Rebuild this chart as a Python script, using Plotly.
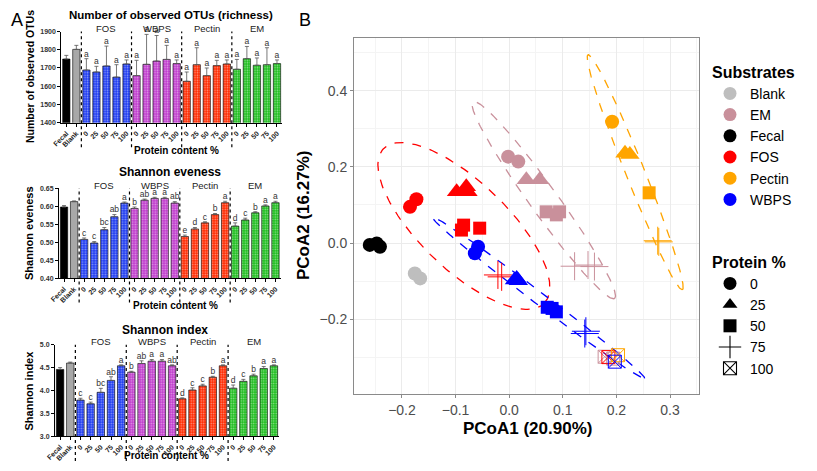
import numpy as np
import plotly.graph_objects as go

# ---------------- Panel A data ----------------
categories = ["Fecal", "Blank"] + ["0", "25", "50", "75", "100"] * 4
groups = ["FOS", "WBPS", "Pectin", "EM"]
bar_group = ["Fecal", "Blank"] + [g for g in groups for _ in range(5)]

otu_mean = [1749, 1802, 1689, 1678, 1711, 1650, 1722, 1658, 1720, 1738, 1747, 1724,
            1627, 1718, 1658, 1713, 1722, 1693, 1751, 1715, 1718, 1724]
otu_err = [20, 22, 62, 31, 109, 68, 22, 84, 164, 140, 77, 20,
           51, 93, 42, 29, 22, 54, 67, 40, 93, 20]
otu_letters = ["", ""] + ["a"] * 20

even_mean = [0.598, 0.613, 0.508, 0.498, 0.535, 0.571, 0.609, 0.594, 0.617, 0.622, 0.622, 0.609,
             0.516, 0.537, 0.554, 0.577, 0.610, 0.545, 0.562, 0.582, 0.601, 0.610]
even_err = [0.004, 0.002, 0.004, 0.004, 0.006, 0.006, 0.003, 0.004, 0.003, 0.003, 0.003, 0.004,
            0.004, 0.004, 0.003, 0.003, 0.004, 0.009, 0.005, 0.003, 0.003, 0.004]
even_letters = ["", ""] + ["c", "c", "bc", "ab", "a"] + ["b", "ab", "a", "a", "ab"] + \
               ["e", "d", "c", "b", "a"] + ["d", "c", "b", "a", "a"]

shan_mean = [4.46, 4.60, 3.79, 3.71, 3.96, 4.22, 4.54, 4.40, 4.59, 4.64, 4.64, 4.54,
             3.82, 4.01, 4.10, 4.29, 4.54, 4.05, 4.20, 4.32, 4.48, 4.54]
shan_err = [0.04, 0.02, 0.04, 0.036, 0.087, 0.08, 0.02, 0.02, 0.058, 0.036, 0.036, 0.02,
            0.02, 0.05, 0.036, 0.02, 0.02, 0.07, 0.043, 0.036, 0.043, 0.02]
shan_letters = ["", ""] + ["c", "c", "bc", "ab", "a"] + ["b", "ab", "a", "a", "ab"] + \
               ["d", "c", "c", "b", "a"] + ["d", "c", "b", "a", "a"]

bar_palette = {"Fecal": "#000000", "Blank": "#a8a8a8", "FOS": "#1f3cf2",
               "WBPS": "#c03ccd", "Pectin": "#ff2a00", "EM": "#1fbe1f"}

# ---------------- Panel B data ----------------
pc_sub = (["Fecal"] * 3 + ["Blank"] * 2 +
          ["FOS"] * 2 + ["FOS"] * 3 + ["FOS"] * 3 + ["FOS"] * 2 + ["FOS"] +
          ["WBPS"] * 2 + ["WBPS"] * 3 + ["WBPS"] * 3 + ["WBPS"] * 2 + ["WBPS"] +
          ["EM"] * 2 + ["EM"] * 2 + ["EM"] * 3 + ["EM"] * 3 + ["EM"] * 2 +
          ["Pectin"] + ["Pectin"] * 2 + ["Pectin"] + ["Pectin"] * 2 + ["Pectin"])
pc_prot = (["0"] * 3 + ["0"] * 2 +
           ["0"] * 2 + ["25"] * 3 + ["50"] * 3 + ["75"] * 2 + ["100"] +
           ["0"] * 2 + ["25"] * 3 + ["50"] * 3 + ["75"] * 2 + ["100"] +
           ["0"] * 2 + ["25"] * 2 + ["50"] * 3 + ["75"] * 3 + ["100"] * 2 +
           ["0"] + ["25"] * 2 + ["50"] + ["75"] * 2 + ["100"])
pc1 = [-0.260, -0.247, -0.241, -0.176, -0.166,
       -0.185, -0.173, -0.098, -0.080, -0.077, -0.089, -0.085, -0.055, -0.021, -0.014, 0.185,
       -0.058, -0.064, 0.014, 0.010, 0.017, 0.071, 0.088, 0.080, 0.141, 0.143, 0.197,
       -0.002, 0.017, 0.032, 0.057, 0.069, 0.094, 0.088, 0.122, 0.147, 0.159, 0.178, 0.194,
       0.192, 0.216, 0.225, 0.261, 0.277, 0.279, 0.203]
pc2 = [-0.005, -0.001, -0.010, -0.080, -0.093,
       0.095, 0.115, 0.135, 0.148, 0.135, 0.034, 0.047, 0.039, -0.084, -0.089, -0.300,
       -0.010, -0.027, -0.093, -0.097, -0.099, -0.169, -0.181, -0.172, -0.238, -0.232, -0.312,
       0.227, 0.214, 0.166, 0.166, 0.082, 0.082, 0.074, -0.061, -0.058, -0.062, -0.299, -0.304,
       0.319, 0.236, 0.233, 0.132, 0.006, 0.003, -0.295]

substrates = ["Blank", "EM", "Fecal", "FOS", "Pectin", "WBPS"]
sub_colors = ["#bebebe", "#c9909b", "#000000", "#ff0000", "#ffa500", "#0000ff"]
protein_levels = ["0", "25", "50", "75", "100"]
prot_symbols = ["circle", "triangle-up", "square", "cross-thin", "square-x-open"]
prot_sizes = [14, 17, 13, 20, 13]

# ellipses: substrate, centre and two semi-axis vectors (data units)
ell_sub = ["FOS", "WBPS", "EM", "Pectin"]
ell_cx = [-0.0845, 0.0546, 0.0644, 0.235]
ell_cy = [0.0447, -0.144, 0.113, 0.186]
ell_ax = [0.150, 0.198, 0.1322, 0.0879]
ell_ay = [-0.203, -0.212, -0.2587, -0.309]
ell_bx = [0.0566, 0.0067, 0.0211, 0.0164]
ell_by = [0.0834, 0.0126, 0.0216, 0.0093]

# ---------------- layout helpers ----------------
W, H = 817, 471
OFF = 8  # page body margin
FONT = "Liberation Sans, Arial, Helvetica, sans-serif"


def px_x(p):
    return (p - OFF) / W


def px_y(p):
    return 1 - (p - OFF) / H


def note(x, y, text, size, angle=0, color="#000"):
    fig.add_annotation(xref="paper", yref="paper", x=px_x(x), y=px_y(y), text=text,
                       xanchor="center", yanchor="middle", textangle=angle, showarrow=False,
                       font=dict(size=size, family=FONT, color=color))


fig = go.Figure()

charts = [
    dict(mean=otu_mean, err=otu_err, letters=otu_letters, xd=(61.3, 282), yd=(122.7, 31.5),
         rng=[1400, 1900], dtick=100, fmt="d"),
    dict(mean=even_mean, err=even_err, letters=even_letters, xd=(59, 280.5), yd=(278.3, 188.3),
         rng=[0.40, 0.65], dtick=0.05, fmt=".2f"),
    dict(mean=shan_mean, err=shan_err, letters=shan_letters, xd=(55, 279), yd=(436.3, 344.7),
         rng=[3.0, 5.0], dtick=0.5, fmt=".1f"),
]

xpos = list(range(len(categories)))
colors = [bar_palette[g] for g in bar_group]
patterns = ["" if g in ("Fecal", "Blank") else "." for g in bar_group]

for i, c in enumerate(charts):
    k = "" if i == 0 else str(i + 1)
    fig.add_trace(go.Bar(
        x=xpos, y=c["mean"], xaxis="x" + k, yaxis="y" + k,
        marker=dict(color=colors, line=dict(color="#000000", width=0.6),
                    pattern=dict(shape=patterns, fgcolor="rgba(255,255,255,0.3)", size=2.5, solidity=0.3)),
        error_y=dict(type="data", array=c["err"], arrayminus=[0] * len(c["err"]), symmetric=False,
                     color="#555555", thickness=0.8, width=2),
        showlegend=False, width=0.73))
    tops = [m + e for m, e in zip(c["mean"], c["err"])]
    fig.add_trace(go.Scatter(
        x=xpos, y=tops, text=c["letters"], mode="text", textposition="top center",
        textfont=dict(size=8.5, color="#333333", family=FONT), xaxis="x" + k, yaxis="y" + k,
        showlegend=False, cliponaxis=False))
    fig.update_layout(**{
        "xaxis" + k: dict(domain=[px_x(c["xd"][0]), px_x(c["xd"][1])], anchor="y" + k,
                          range=[-0.5, len(categories) - 0.5], tickvals=xpos, ticktext=categories,
                          tickangle=-45, tickfont=dict(size=7, family=FONT, weight="bold", color="#222"),
                          ticks="outside", ticklen=3, tickcolor="#000", showline=True, automargin=False,
                          linecolor="#000", linewidth=1, showgrid=False, zeroline=False),
        "yaxis" + k: dict(domain=[px_y(c["yd"][0]), px_y(c["yd"][1])], anchor="x" + k,
                          range=c["rng"], dtick=c["dtick"], tickformat=c["fmt"], automargin=False,
                          tickfont=dict(size=7, family=FONT, weight="bold", color="#333"),
                          ticks="outside", ticklen=3, tickcolor="#000", showline=True,
                          linecolor="#000", linewidth=1, showgrid=False, zeroline=False),
    })
    for sep in [1.5, 6.5, 11.5, 16.5]:
        fig.add_shape(type="line", xref="x" + k, yref="y" + k + " domain", x0=sep, x1=sep,
                      y0=-0.27, y1=1.0, line=dict(color="#000", width=1.2, dash="dot"))
    for gi, g in enumerate(groups):
        fig.add_annotation(xref="x" + k, yref="y" + k + " domain", x=4 + 5 * gi, y=1.0,
                           text=g, showarrow=False, xanchor="center", yanchor="middle", yshift=3,
                           font=dict(size=9.5, family=FONT, color="#222"))

# panel A text
for t_, x, y, s in [("Number of observed OTUs (richness)", 171, 15, 11.5),
                    ("Shannon eveness", 169.5, 172, 12),
                    ("Shannon index", 165, 330, 12)]:
    note(x, y, "<b>%s</b>" % t_, s)
for t_, x, y, s in [("Number of observed OTUs", 30, 77, 10.5),
                    ("Shannon eveness", 29, 233, 11),
                    ("Shannon index", 28, 390.5, 11)]:
    note(x, y, "<b>%s</b>" % t_, s, angle=-90)
for x, y in [(176, 151), (175, 305), (166, 455)]:
    note(x, y, "<b>Protein content %</b>", 10)
note(17, 20, "A", 18)
note(305, 20, "B", 18)

# ---------------- Panel B ----------------
t = np.linspace(0, 2 * np.pi, 200)
for s, cx, cy, ax, ay, bx, by in zip(ell_sub, ell_cx, ell_cy, ell_ax, ell_ay, ell_bx, ell_by):
    col = sub_colors[substrates.index(s)]
    fig.add_trace(go.Scatter(x=cx + ax * np.cos(t) + bx * np.sin(t),
                             y=cy + ay * np.cos(t) + by * np.sin(t),
                             mode="lines", line=dict(color=col, width=1.3, dash="dash"),
                             xaxis="x4", yaxis="y4", showlegend=False, hoverinfo="skip"))

for s, col in zip(substrates, sub_colors):
    for p, sym, sz in zip(protein_levels, prot_symbols, prot_sizes):
        idx = [i for i in range(len(pc1)) if pc_sub[i] == s and pc_prot[i] == p]
        if not idx:
            continue
        lw = 1.0 if sym in ("cross-thin", "square-x-open") else 0
        fig.add_trace(go.Scatter(x=[pc1[i] for i in idx], y=[pc2[i] for i in idx], mode="markers",
                                 marker=dict(symbol=sym, size=sz, color=col,
                                             line=dict(color=col, width=lw)),
                                 xaxis="x4", yaxis="y4", showlegend=False, cliponaxis=False))

for s, col in zip(substrates, sub_colors):
    fig.add_trace(go.Scatter(x=[None], y=[None], mode="markers", name=s, legend="legend",
                             marker=dict(symbol="circle", size=13, color=col),
                             xaxis="x4", yaxis="y4"))
for p, sym in zip(protein_levels, prot_symbols):
    lw = 1.1 if sym in ("cross-thin", "square-x-open") else 0
    fig.add_trace(go.Scatter(x=[None], y=[None], mode="markers", name=p, legend="legend2",
                             marker=dict(symbol=sym, size=13 if sym != "cross-thin" else 16,
                                         color="#000", line=dict(color="#000", width=lw)),
                             xaxis="x4", yaxis="y4"))

note(527, 428, "<b>PCoA1 (20.90%)</b>", 17)
note(303, 216, "<b>PCoA2 (16.27%)</b>", 17, angle=-90)

axis4 = dict(showgrid=True, gridcolor="#ebebeb", gridwidth=1, automargin=False, tick0=0,
             tickformat=".1f", zeroline=False, showline=True, mirror=True, linecolor="#8a8a8a",
             linewidth=1, ticks="outside", ticklen=3, tickcolor="#8a8a8a",
             tickfont=dict(size=14, color="#4d4d4d", family=FONT))

fig.update_layout(
    width=W, height=H, margin=dict(l=0, r=0, t=0, b=0, pad=0, autoexpand=False),
    paper_bgcolor="white", plot_bgcolor="white", bargap=0.27,
    font=dict(family=FONT),
    xaxis4=dict(domain=[px_x(354), px_x(699)], anchor="y4", range=[-0.2894, 0.354], dtick=0.1,
                minor=dict(dtick=0.05, tick0=0, showgrid=True, gridcolor="#f4f4f4", gridwidth=0.6),
                **axis4),
    yaxis4=dict(domain=[px_y(394), px_y(38)], anchor="x4", range=[-0.397, 0.539], dtick=0.2,
                minor=dict(dtick=0.1, tick0=0, showgrid=True, gridcolor="#f4f4f4", gridwidth=0.6),
                **axis4),
    legend=dict(title=dict(text="<b>Substrates</b>", font=dict(size=16, color="#000")),
                font=dict(size=14, color="#000", family=FONT), x=px_x(710), y=px_y(57),
                xanchor="left", yanchor="top", bgcolor="rgba(0,0,0,0)", tracegroupgap=0),
    legend2=dict(title=dict(text="<b>Protein %</b>", font=dict(size=16, color="#000")),
                 font=dict(size=14, color="#000", family=FONT), x=px_x(710), y=px_y(247),
                 xanchor="left", yanchor="top", bgcolor="rgba(0,0,0,0)", tracegroupgap=0),
)

fig.write_html("out.html")
